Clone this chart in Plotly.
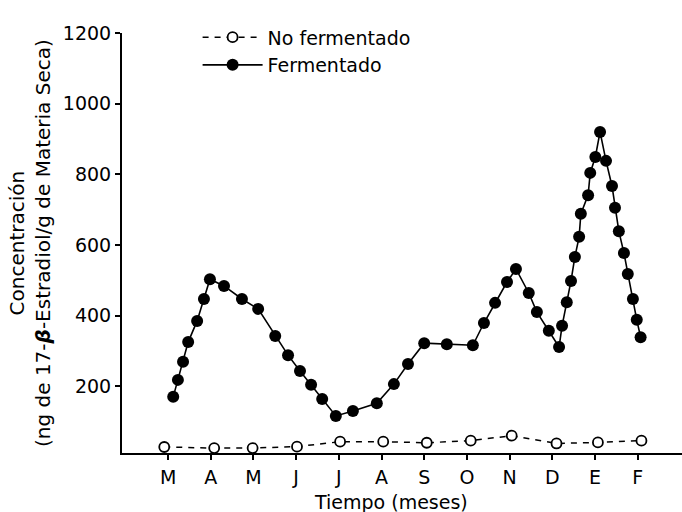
import plotly.graph_objects as go

months = ["M", "A", "M", "J", "J", "A", "S", "O", "N", "D", "E", "F"]
month_pos = list(range(12))

# No fermentado (open circles, dashed)
nf_x = [-0.09, 1.08, 1.98, 3.02, 4.03, 5.04, 6.06, 7.09, 8.05, 9.10, 10.07, 11.09]
nf_y = [28, 25, 25, 29, 43, 43, 40, 46, 60, 38, 41, 46]

# Fermentado (filled circles, solid)
f_x = [0.12, 0.23, 0.35, 0.47, 0.68, 0.84, 0.98, 1.31, 1.73, 2.11,
       2.51, 2.81, 3.09, 3.35, 3.61, 3.93, 4.33, 4.89, 5.29, 5.62,
       6.00, 6.53, 7.14, 7.40, 7.66, 7.94, 8.15, 8.45, 8.64, 8.92,
       9.16, 9.23, 9.34, 9.44, 9.53, 9.63, 9.67, 9.84, 9.89, 10.01,
       10.12, 10.26, 10.40, 10.47, 10.56, 10.68, 10.77, 10.89, 10.98, 11.07]
f_y = [170, 218, 269, 325, 385, 447, 503, 484, 447, 419,
       342, 288, 243, 204, 164, 116, 130, 152, 206, 263,
       322, 319, 316, 379, 436, 495, 532, 464, 410, 357,
       311, 371, 438, 498, 566, 623, 688, 741, 804, 849,
       920, 838, 767, 705, 639, 577, 518, 447, 388, 339]

y_ticks = [200, 400, 600, 800, 1000, 1200]

FONT = "DejaVu Sans"

fig = go.Figure()
fig.add_trace(go.Scatter(
    x=nf_x, y=nf_y, name="No fermentado", mode="lines+markers",
    line=dict(color="black", width=1.5, dash="6px,6px"),
    marker=dict(symbol="circle", size=10, color="white",
                line=dict(color="black", width=1.8)),
    cliponaxis=False,
))
fig.add_trace(go.Scatter(
    x=f_x, y=f_y, name="Fermentado", mode="lines+markers",
    line=dict(color="black", width=1.6),
    marker=dict(symbol="circle", size=12, color="black"),
    cliponaxis=False,
))

fig.update_layout(
    width=682, height=512,
    margin=dict(l=122, r=0, t=33, b=59),
    paper_bgcolor="white", plot_bgcolor="white",
    font=dict(family=FONT, size=18, color="black"),
    showlegend=True,
    legend=dict(x=0.135, y=1.035, xanchor="left", yanchor="top",
                bgcolor="rgba(0,0,0,0)", borderwidth=0,
                font=dict(family=FONT, size=19, color="black"),
                itemwidth=60, tracegroupgap=0),
    xaxis=dict(range=[-1.08, 12.04], tickvals=month_pos, ticktext=months,
               showgrid=False, zeroline=False, showline=True,
               linecolor="black", linewidth=2, ticks="outside",
               ticklen=5, tickwidth=2, tickcolor="black",
               ticklabelstandoff=1,
               tickfont=dict(family=FONT, size=19)),
    yaxis=dict(range=[11, 1200], tickvals=y_ticks,
               ticktext=[str(v) for v in y_ticks],
               showgrid=False, zeroline=False, showline=True,
               linecolor="black", linewidth=2, ticks="outside",
               ticklen=5, tickwidth=2, tickcolor="black",
               tickfont=dict(family=FONT, size=19)),
    annotations=[
        dict(text="Tiempo (meses)", xref="paper", yref="paper",
             x=(391 - 122) / 560,
             y=-(502 - 453) / 420, xanchor="center", yanchor="middle",
             showarrow=False, font=dict(family=FONT, size=19)),
        dict(text="Concentración<br>(ng de 17-<b><i>β</i></b>-Estradiol/g de Materia Seca)",
             xref="paper", yref="paper",
             x=(30 - 122) / 560, y=(453 - 243) / 420,
             xanchor="center", yanchor="middle", textangle=-90,
             showarrow=False, font=dict(family=FONT, size=20)),
    ],
)

fig.write_html("out.html")
